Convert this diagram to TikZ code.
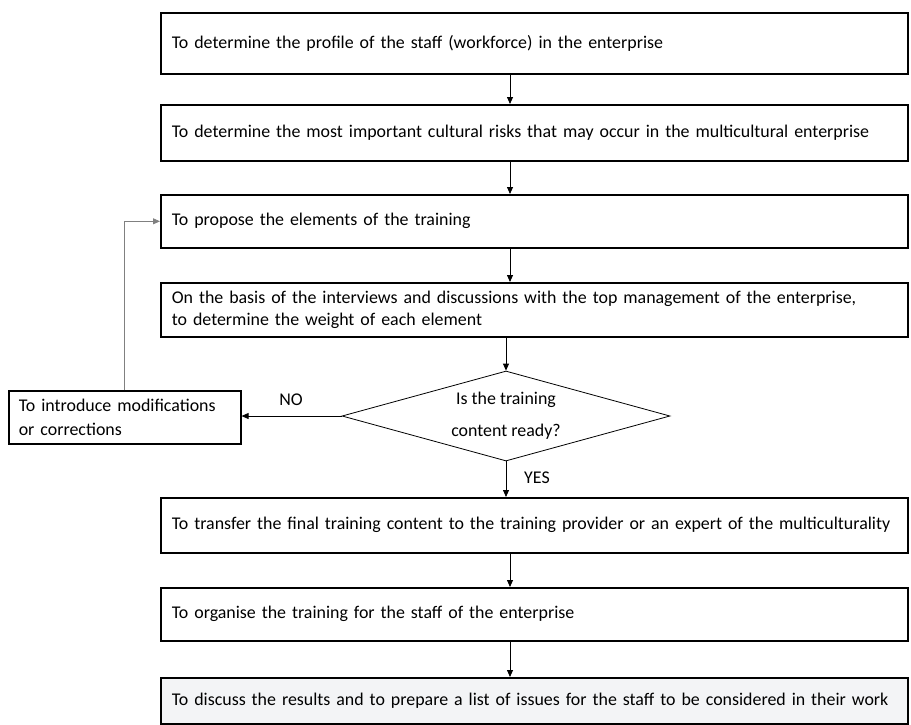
\documentclass[tikz,border=0pt]{standalone}
\usepackage{fontspec}
\setmainfont{Carlito}
\usetikzlibrary{arrows.meta,shapes.geometric}

\begin{document}
\begin{tikzpicture}[x=1pt,y=1pt,yscale=-1,xscale=1,
  stepbox/.style={draw,line width=1.6pt,anchor=north west,minimum width=747pt,
    text width=725pt,inner xsep=11pt,align=left,font=\fontsize{17.9}{22}\selectfont},
  flow/.style={-{Triangle[length=7pt,width=6pt]},line width=0.8pt},
  lbl/.style={inner sep=0pt,font=\fontsize{17.9}{22}\selectfont}]
%set diagram frame: 911 x 724
\useasboundingbox (0,0) rectangle (911,724);
\coordinate (axis) at (510,0);

%Boxes of the main column
\node [stepbox,minimum height=61pt] (b1) at (160,12) {To determine the profile of the staff (workforce) in the enterprise};
\node [stepbox,minimum height=56pt] (b2) at (160,104) {To determine the most important cultural risks that may occur in the multicultural enterprise};
\node [stepbox,minimum height=53pt] (b3) at (160,194) {To propose the elements of the training};
\node [stepbox,minimum height=54pt] (b4) at (160,282) {On the basis of the interviews and discussions with the top management of the enterprise,\\to determine the weight of each element};
\node [stepbox,minimum height=55pt] (b5) at (160,497) {To transfer the final training content to the training provider or an expert of the multiculturality};
\node [stepbox,minimum height=53pt] (b6) at (160,587) {To organise the training for the staff of the enterprise};
\node [stepbox,minimum height=46pt,fill={rgb,255:red,243;green,244;blue,246}] (b7) at (160,677) {To discuss the results and to prepare a list of issues for the staff to be considered in their work};

%Shape: Diamond
\node [draw,diamond,line width=0.8pt,minimum width=328pt,minimum height=90pt,inner sep=0pt,
  label={[lbl,align=center]center:Is the training\\[10pt]content ready?}] (dec) at (506,416) {};

%Side box
\node [stepbox,minimum width=232pt,text width=212pt,inner xsep=10pt,minimum height=53pt,
  font=\fontsize{17.9}{24}\selectfont] (fix) at (8,390) {To introduce modifications\\or corrections};

%Connectors
\draw [flow] (b1.south -| axis) -- (b2.north -| axis);
\draw [flow] (b2.south -| axis) -- (b3.north -| axis);
\draw [flow] (b3.south -| axis) -- (b4.north -| axis);
\draw [flow] (b4.south -| dec) -- (dec.north);
\draw [flow] (dec.south) -- (b5.north -| dec);
\draw [flow] (b5.south -| axis) -- (b6.north -| axis);
\draw [flow] (b6.south -| axis) -- (b7.north -| axis);
\draw [flow] (dec.west) -- (dec.west -| fix.east);
\draw [flow,gray] (fix.north) |- (b3.west);

% Text Node
\node [lbl] (no) at (291,400) {NO};
% Text Node
\node [lbl] (yes) at (537,478) {YES};

\end{tikzpicture}
\end{document}
